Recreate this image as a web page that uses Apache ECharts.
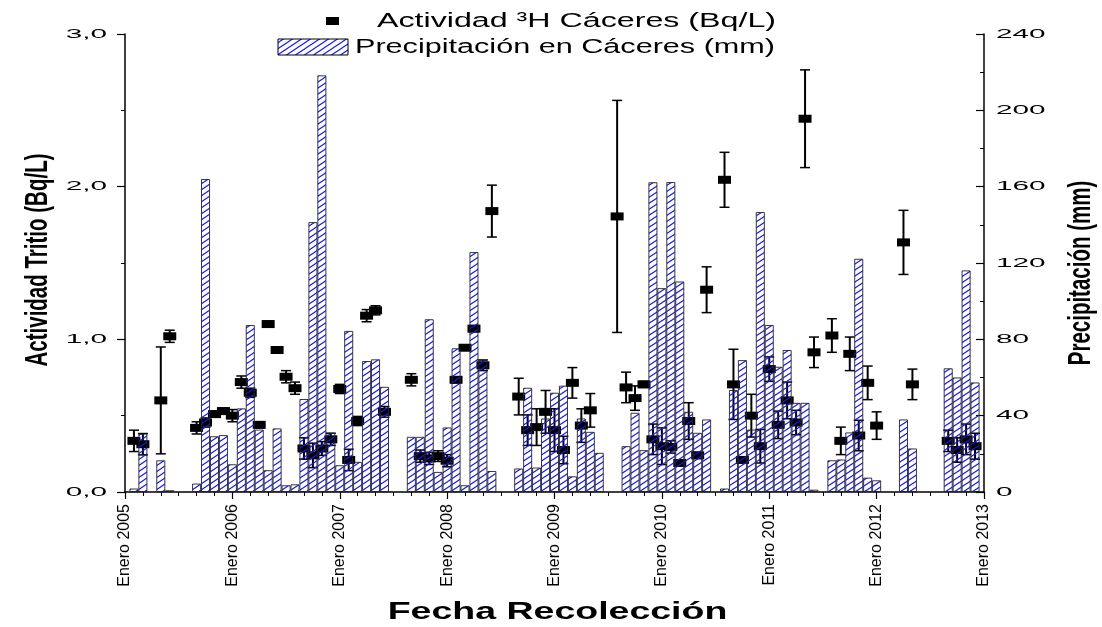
<!DOCTYPE html>
<html>
<head>
<meta charset="utf-8">
<script src="https://cdn.jsdelivr.net/npm/echarts@6/dist/echarts.min.js"></script>
<style>
html,body{margin:0;padding:0;background:#fff;}
#c{width:1102px;height:627px;}
</style>
</head>
<body>
<div id="c"></div>
<script>
// x values are months counted from 1 Jan 2005 (sample dated at month end)
const precipMonths = [1,2,4,5,8,9,10,11,12,13,14,15,16,17,18,19,20,21,22,23,24,25,26,27,28,29,32,33,34,35,36,37,38,39,40,41,44,45,46,47,48,49,50,51,52,53,56,57,58,59,60,61,62,63,64,65,67,68,69,70,71,72,73,74,75,76,77,79,80,81,82,83,84,87,88,92,93,94,95];
const precipValues = [1.8,30.6,16.6,0.9,4.4,164.0,29.2,29.8,14.5,43.8,87.5,32.7,11.4,33.3,3.5,4.0,48.7,141.4,218.3,31.0,14.0,84.4,15.8,68.6,69.5,55.1,28.9,28.9,90.5,10.5,33.8,75.3,3.5,125.7,69.1,11.0,12.3,54.6,12.8,38.5,52.0,55.7,8.2,38.5,31.5,20.5,24.0,41.5,21.9,162.3,106.8,162.4,110.3,42.0,31.0,38.0,1.8,53.4,69.1,32.7,146.7,87.5,65.6,74.4,46.7,46.7,1.2,16.6,17.0,31.2,122.2,7.5,6.1,38.0,22.8,64.8,60.0,116.1,57.4];

const tritioMonths = [1,2,4,5,8,9,10,11,12,13,14,15,16,17,18,19,20,21,22,23,24,25,26,27,28,29,32,33,34,35,36,37,38,39,40,41,44,45,46,47,48,49,50,51,52,55,56,57,58,59,60,61,62,63,64,65,67,68,69,70,71,72,73,74,75,76,77,79,80,81,82,83,84,87,88,92,93,94,95];
const tritioValues = [0.335,0.313,0.60,1.02,0.42,0.455,0.51,0.53,0.50,0.72,0.65,0.44,1.10,0.93,0.755,0.68,0.285,0.24,0.285,0.345,0.675,0.21,0.465,1.155,1.19,0.525,0.735,0.235,0.22,0.235,0.205,0.735,0.945,1.07,0.83,1.84,0.625,0.405,0.425,0.525,0.405,0.275,0.715,0.435,0.535,1.805,0.685,0.615,0.705,0.345,0.30,0.295,0.19,0.465,0.24,1.325,2.045,0.705,0.21,0.50,0.30,0.805,0.44,0.60,0.455,2.445,0.915,1.025,0.335,0.905,0.37,0.715,0.435,1.635,0.705,0.335,0.275,0.345,0.30];
const tritioErrors = [0.07,0.07,0.35,0.04,0.04,0.03,0.02,0.02,0.04,0.04,0.03,0.02,0.02,0.02,0.04,0.04,0.07,0.08,0.045,0.04,0.03,0.07,0.03,0.04,0.03,0.035,0.04,0.04,0.04,0.035,0.04,0.02,0.01,0.02,0.035,0.17,0.12,0.10,0.12,0.14,0.14,0.09,0.10,0.11,0.11,0.76,0.10,0.08,0.02,0.10,0.12,0.04,0.02,0.12,0.02,0.15,0.18,0.23,0.01,0.14,0.11,0.08,0.09,0.12,0.08,0.32,0.10,0.11,0.09,0.11,0.10,0.11,0.09,0.21,0.10,0.07,0.08,0.10,0.085];

const xTickLabels = ['Enero 2005','Enero 2006','Enero 2007','Enero 2008','Enero 2009','Enero 2010','Enero 2011','Enero 2012','Enero 2013'];
const yLeftTickLabels = ['0,0','1,0','2,0','3,0'];
const yRightTickLabels = ['0','40','80','120','160','200','240'];

const legendTritio = 'Actividad \u00B3H Cáceres (Bq/L)';
const legendPrecip = 'Precipitación en Cáceres (mm)';
const titleLeft = 'Actividad Tritio (Bq/L)';
const titleRight = 'Precipitación (mm)';
const titleBottom = 'Fecha Recolección';

function makeHatch() {
  const w = 9, h = 6;
  const c = document.createElement('canvas');
  c.width = w; c.height = h;
  const g = c.getContext('2d');
  g.strokeStyle = '#1414ff';
  g.lineWidth = 1.1;
  g.beginPath();
  for (const n of [0, 1, 2]) {
    g.moveTo(-1, h * n + h / w);
    g.lineTo(w + 1, h * n - h * (w + 1) / w);
  }
  g.stroke();
  return c;
}
const hatch = { image: makeHatch(), repeat: 'repeat' };

const barData = precipMonths.map((m, i) => [m, precipValues[i]]);
const scatterData = tritioMonths.map((m, i) => [m, tritioValues[i]]);
const errData = tritioMonths.map((m, i) => [m, tritioValues[i], tritioErrors[i]]);

const chart = echarts.init(document.getElementById('c'), null, { renderer: 'canvas' });
const sans = "'Liberation Sans', Arial, sans-serif";
const axisCommon = {
  axisLine: { show: true, onZero: false, lineStyle: { color: '#000', width: 1.5 } },
  splitLine: { show: false }
};

chart.setOption({
  animation: false,
  backgroundColor: '#ffffff',
  grid: { left: 125, right: 118, top: 34, bottom: 135, containLabel: false, outerBoundsMode: 'none' },
  xAxis: Object.assign({
    type: 'value', min: 0, max: 96, interval: 12,
    axisTick: { show: true, inside: false, length: 7, lineStyle: { color: '#000', width: 1.2 } },
    minorTick: { show: true, splitNumber: 6, length: 4, lineStyle: { color: '#000', width: 1 } },
    axisLabel: {
      rotate: 90, margin: 12, color: '#000', fontFamily: sans, fontSize: 16,
      showMinLabel: true, showMaxLabel: true, hideOverlap: false,
      formatter: v => xTickLabels[Math.round(v / 12)]
    }
  }, axisCommon),
  yAxis: [
    Object.assign({
      type: 'value', min: 0, max: 3, interval: 1, position: 'left',
      axisTick: { show: true, inside: false, length: 8, lineStyle: { color: '#000', width: 1.2 } },
      minorTick: { show: true, splitNumber: 2, length: 4, lineStyle: { color: '#000', width: 1 } },
      axisLabel: { show: false }
    }, axisCommon),
    Object.assign({
      type: 'value', min: 0, max: 240, interval: 40, position: 'right',
      axisTick: { show: true, inside: true, length: 8, lineStyle: { color: '#000', width: 1.2 } },
      minorTick: { show: true, splitNumber: 2, length: 4, lineStyle: { color: '#000', width: 1 } },
      axisLabel: { show: false }
    }, axisCommon)
  ],
  series: [
    {
      name: legendTritio, type: 'custom', xAxisIndex: 0, yAxisIndex: 0, z: 2,
      data: errData, encode: { x: 0, y: 1 },
      renderItem: function (params, api) {
        const x = api.value(0), v = api.value(1), e = api.value(2);
        const hi = api.coord([x, v + e]);
        const lo = api.coord([x, v - e]);
        const cw = 5;
        return {
          type: 'group',
          children: [
            { type: 'line', shape: { x1: hi[0], y1: hi[1], x2: lo[0], y2: lo[1] }, style: { stroke: '#000', lineWidth: 2 } },
            { type: 'line', shape: { x1: hi[0] - cw, y1: hi[1], x2: hi[0] + cw, y2: hi[1] }, style: { stroke: '#000', lineWidth: 1.5 } },
            { type: 'line', shape: { x1: lo[0] - cw, y1: lo[1], x2: lo[0] + cw, y2: lo[1] }, style: { stroke: '#000', lineWidth: 1.5 } }
          ]
        };
      }
    },
    {
      name: legendTritio, type: 'scatter', xAxisIndex: 0, yAxisIndex: 0, z: 3,
      symbol: 'rect', symbolSize: [13, 8],
      itemStyle: { color: '#000', opacity: 1 },
      data: scatterData
    },
    {
      name: legendPrecip, type: 'bar', xAxisIndex: 0, yAxisIndex: 1, z: 4,
      barWidth: '100%',
      itemStyle: { color: hatch, borderColor: '#222', borderWidth: 0.9 },
      data: barData
    }
  ]
});

// Text placed with the library's own axis scales (stretched glyphs like the reference)
const gridLeft = chart.convertToPixel({ xAxisIndex: 0, yAxisIndex: 0 }, [0, 0])[0];
const gridRight = chart.convertToPixel({ xAxisIndex: 0, yAxisIndex: 0 }, [96, 0])[0];
const gridTop = chart.convertToPixel({ xAxisIndex: 0, yAxisIndex: 0 }, [0, 3])[1];
const gridBottom = chart.convertToPixel({ xAxisIndex: 0, yAxisIndex: 0 }, [0, 0])[1];
const tickFont = { fontFamily: sans, fontSize: 13.5, fill: '#000', verticalAlign: 'middle' };
const graphics = [];
yLeftTickLabels.forEach((t, i) => {
  const py = chart.convertToPixel({ yAxisIndex: 0 }, i);
  graphics.push({ type: 'text', x: gridLeft - 18, y: py, scaleX: 2.2,
    style: Object.assign({ text: t, align: 'right' }, tickFont) });
});
yRightTickLabels.forEach((t, i) => {
  const py = chart.convertToPixel({ yAxisIndex: 1 }, i * 40);
  graphics.push({ type: 'text', x: gridRight + 12, y: py, scaleX: 2.2,
    style: Object.assign({ text: t, align: 'left' }, tickFont) });
});
const midY = (gridTop + gridBottom) / 2;
graphics.push(
  { type: 'text', x: 39, y: midY - 3, rotation: Math.PI / 2, scaleY: 1.5,
    style: { text: titleLeft, fontFamily: sans, fontWeight: 'bold', fontSize: 20.5, fill: '#000', align: 'center', verticalAlign: 'middle' } },
  { type: 'text', x: 1082, y: midY + 10, rotation: Math.PI / 2, scaleY: 1.5,
    style: { text: titleRight, fontFamily: sans, fontWeight: 'bold', fontSize: 20.5, fill: '#000', align: 'center', verticalAlign: 'middle' } },
  { type: 'text', x: (gridLeft + gridRight) / 2 + 3, y: 613, scaleX: 1.63,
    style: { text: titleBottom, fontFamily: sans, fontWeight: 'bold', fontSize: 23, fill: '#000', align: 'center', verticalAlign: 'middle' } },
  { type: 'rect', shape: { x: 326, y: 17, width: 13, height: 8 }, style: { fill: '#000' } },
  { type: 'text', x: 377, y: 21, scaleX: 1.61,
    style: { text: legendTritio, fontFamily: sans, fontSize: 20, fill: '#000', align: 'left', verticalAlign: 'middle' } },
  { type: 'rect', shape: { x: 278, y: 39, width: 70, height: 16 }, style: { fill: hatch, stroke: '#000', lineWidth: 1 } },
  { type: 'text', x: 355, y: 47, scaleX: 1.53,
    style: { text: legendPrecip, fontFamily: sans, fontSize: 20, fill: '#000', align: 'left', verticalAlign: 'middle' } }
);
chart.setOption({ graphic: graphics });
</script>
</body>
</html>
